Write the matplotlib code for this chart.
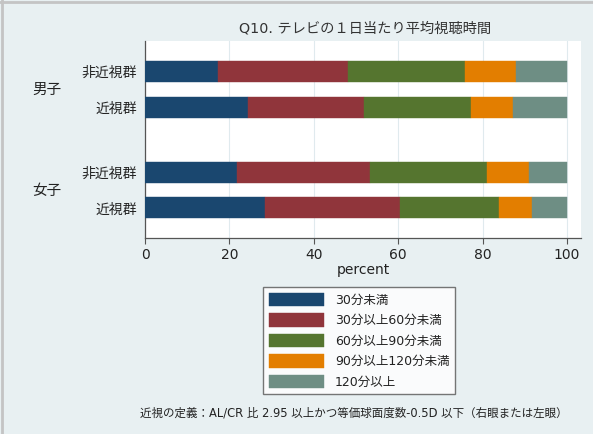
import matplotlib
matplotlib.use("Agg")
import matplotlib.pyplot as plt
import numpy as np
from matplotlib.lines import Line2D

plt.rcParams['font.family'] = ['DejaVu Sans', 'Noto Sans CJK JP']

title = "Q10. テレビの１日当たり平均視聴時間"
groups = ["男子", "女子"]
rows = ["非近視群", "近視群", "非近視群", "近視群"]
series = ["30分未満", "30分以上60分未満", "60分以上90分未満", "90分以上120分未満", "120分以上"]
values = [
    [17.2, 31.0, 27.6, 12.1, 12.1],   # 男子 非近視群
    [24.3, 27.5, 25.4, 9.9, 12.9],    # 男子 近視群
    [21.8, 31.5, 27.8, 10.0, 8.9],    # 女子 非近視群
    [28.4, 32.1, 23.3, 8.0, 8.2],     # 女子 近視群
]
xticks = [0, 20, 40, 60, 80, 100]
xlabel = "percent"
note = "近視の定義：AL/CR 比 2.95 以上かつ等価球面度数-0.5D 以下（右眼または左眼）"

colors = ["#1a476f", "#90353b", "#55752f", "#e37e00", "#6e8e84"]
bg = "#e8f0f2"

W, H = 593, 434
fig = plt.figure(figsize=(W/100, H/100), dpi=100)
fig.patch.set_facecolor(bg)

# layout in pixels
left, right, top, bottom = 145, 581, 41, 238
ax = fig.add_axes([left/W, 1-bottom/H, (right-left)/W, (bottom-top)/H])
ax.set_facecolor("white")

ypos = [71.5, 107.5, 172, 208]
bar_h = 21

vals = np.array(values)
cum = np.zeros(len(rows))
handles = []
for j, s in enumerate(series):
    b = ax.barh(ypos, vals[:, j], left=cum, height=bar_h, color=colors[j],
                edgecolor=colors[j], linewidth=0.3, label=s, zorder=3)
    handles.append(b)
    cum += vals[:, j]

ax.set_ylim(bottom, top)
ax.set_xlim(0, 100 * (right-left) / (567-left))
ax.set_xticks(xticks)
ax.set_xticklabels([str(t) for t in xticks], fontsize=10, color="#222222")
ax.set_yticks(ypos)
ax.set_yticklabels(rows, fontsize=10, color="#222222")
ax.tick_params(axis='y', length=0, pad=6)
ax.tick_params(axis='x', length=4, width=0.8, color="#555555", pad=3)
ax.grid(axis='x', color="#e0eaee", linewidth=0.8, zorder=0)
for sp in ["top", "right"]:
    ax.spines[sp].set_visible(False)
for sp in ["left", "bottom"]:
    ax.spines[sp].set_color("#555555")
    ax.spines[sp].set_linewidth(0.9)
ax.set_xlabel(xlabel, fontsize=10, labelpad=1, color="#222222")

# group labels
for g, yy in zip(groups, [(ypos[0]+ypos[1])/2, (ypos[2]+ypos[3])/2]):
    fig.text(47/W, 1-yy/H, g, fontsize=10.5, ha='center', va='center', color="#222222")

fig.text(365/W, 1-28/H, title, fontsize=10.3, ha='center', va='center', color="#333333")

leg = fig.legend(handles=handles, labels=series, loc='upper left',
                 bbox_to_anchor=(263/W, 1-287/H), fontsize=9,
                 handlelength=4.4, handleheight=1.3, labelspacing=0.52,
                 handletextpad=0.9, borderpad=0.45, borderaxespad=0,
                 frameon=True, fancybox=False, edgecolor="#555555")
leg.get_frame().set_linewidth(1.0)
leg.get_frame().set_facecolor("white")
for t in leg.get_texts():
    t.set_color("#222222")

fig.text(354/W, 1-413/H, note, fontsize=8.3, ha='center', va='center', color="#222222")

# outer border (top & left)
fig.add_artist(Line2D([0, 1], [1-1.5/H, 1-1.5/H], transform=fig.transFigure, color="#c4c4c4", linewidth=2))
fig.add_artist(Line2D([1.5/W, 1.5/W], [0, 1], transform=fig.transFigure, color="#c4c4c4", linewidth=2))

fig.savefig("out.png", dpi=100, facecolor=bg)
